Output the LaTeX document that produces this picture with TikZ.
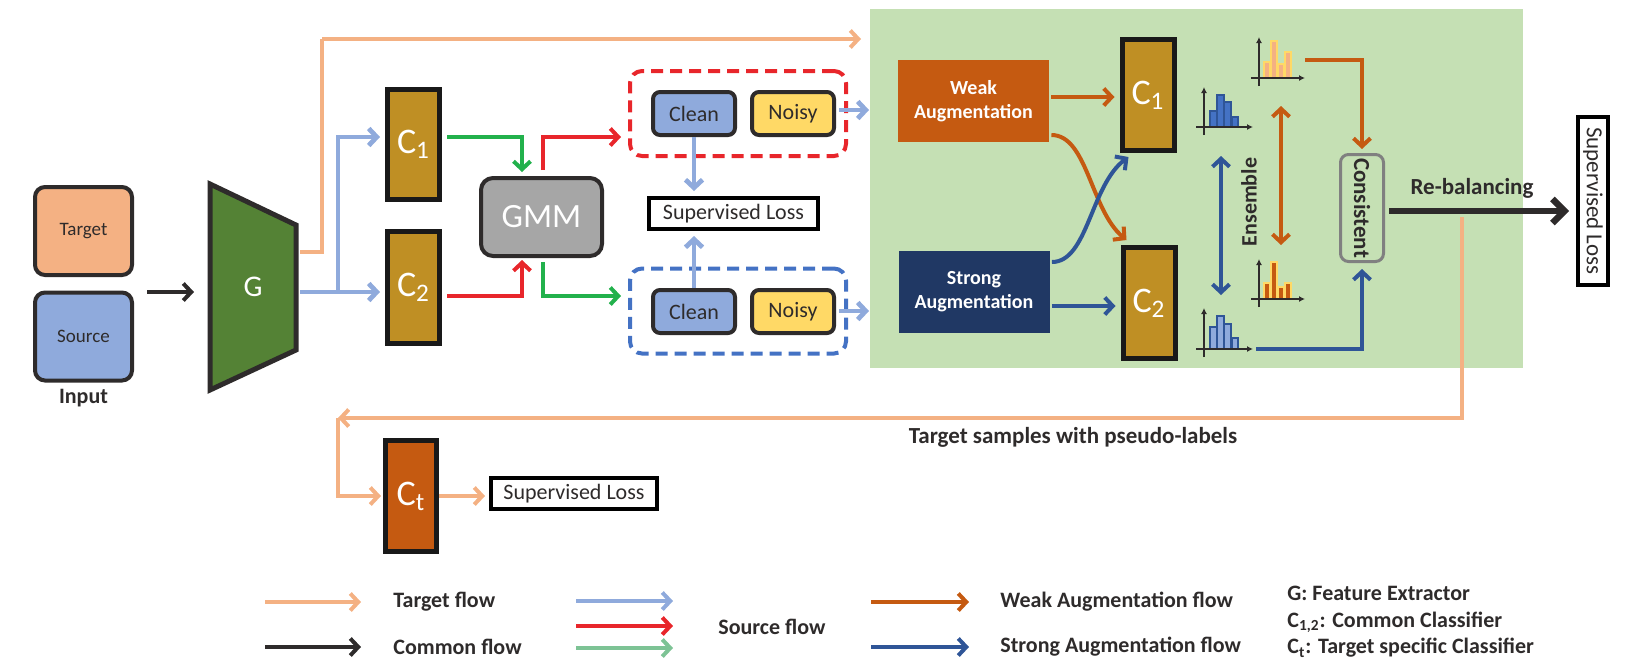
\documentclass[tikz,border=0pt]{standalone}
\usepackage{fontspec}
\setmainfont{Carlito}
\usepackage{graphicx}
\usetikzlibrary{arrows.meta,calc}
\definecolor{peach}{HTML}{F4B183}
\definecolor{lblue}{HTML}{8FAADC}
\definecolor{rred}{HTML}{E8262B}
\definecolor{ggreen}{HTML}{22B14C}
\definecolor{lgreen}{HTML}{7DC395}
\definecolor{oorange}{HTML}{C55A11}
\definecolor{dblue}{HTML}{2F5597}
\definecolor{navy}{HTML}{203864}
\definecolor{gold}{HTML}{BF8F24}
\definecolor{ggdark}{HTML}{548235}
\definecolor{ggray}{HTML}{A6A6A6}
\definecolor{greenbg}{HTML}{C5E0B4}
\definecolor{yyellow}{HTML}{FFD966}
\definecolor{dark}{HTML}{2E2B2B}
\definecolor{bfill}{HTML}{4472C4}
\newcommand\myfs[1]{\fontsize{#1}{#1}\selectfont}
\begin{document}
\begin{tikzpicture}[x=0.5pt,y=-0.5pt,
  flow/.style={-{Straight Barb[length=4pt,width=8.5pt]}, line width=2pt},
  fpeach/.style={flow, draw=peach},
  fblue/.style={flow, draw=lblue, line width=2.4pt},
  fred/.style={flow, draw=rred},
  fgreen/.style={flow, draw=ggreen},
  flgreen/.style={flow, draw=lgreen},
  forange/.style={flow, draw=oorange},
  fdblue/.style={flow, draw=dblue},
  fdark/.style={flow, draw=dark},
  fdouble/.style={{Straight Barb[length=4pt,width=8.5pt]}-{Straight Barb[length=4pt,width=8.5pt]}, line width=2pt},
  inbox/.style={draw=dark, line width=2pt, rounded corners=5pt, minimum width=48.5pt, minimum height=44pt, inner sep=0pt, font=\myfs{9.5}, text=dark},
  cbox/.style={draw=black!90, line width=2.5pt, fill=gold, minimum width=26pt, minimum height=55pt, inner sep=0pt, text=white, font=\myfs{18}},
  smallbox/.style={draw=dark, line width=2pt, rounded corners=3.5pt, minimum width=41pt, minimum height=21.5pt, inner sep=0pt, font=\myfs{11}, text=dark},
  dbox/.style={line width=2pt, dash pattern=on 6pt off 3.5pt, rounded corners=6pt, minimum width=108pt, minimum height=42.5pt, inner sep=0pt},
  slbox/.style={draw=black, line width=2pt, fill=white, inner sep=0pt, font=\myfs{11}, text=dark},
  augbox/.style={minimum width=75.5pt, minimum height=41pt, inner sep=0pt, text=white, font=\myfs{10}\bfseries, align=center},
  lbl/.style={inner sep=0pt, font=\myfs{11}\bfseries, text=dark},
  leg/.style={inner sep=0pt, anchor=west, font=\myfs{11}\bfseries, text=dark},
  axisl/.style={line width=0.6pt, draw=dark, -{Latex[length=3pt,width=3pt]}},
]
\useasboundingbox (0,0) rectangle (1645,666);

% green augmentation area
\node[fill=greenbg, minimum width=326.5pt, minimum height=179.5pt, inner sep=0pt] (augarea) at (1196.5,188.5) {};

% inputs
\node[inbox, fill=peach] (tgt) at (83.5,231) {Target};
\node[inbox, fill=lblue] (src) at (83.5,336.5) {Source};
\node[lbl] (inp) at (83.5,398) {Input};

% feature extractor
\draw[line width=2.5pt, draw=dark, fill=ggdark, line join=miter] (210,184) -- (296,225) -- (296,350) -- (210,390) -- cycle;
\node[text=white, font=\myfs{15}] (G) at (253,287) {G};
\coordinate (inA) at (147,292);
\coordinate (Gin) at (194,292);
\draw[fdark] (inA) -- (Gin);

% classifiers
\node[cbox] (C1L) at (413.5,144.5) {C\textsubscript{1}};
\node[cbox, minimum height=56pt] (C2L) at (413.5,287.5) {C\textsubscript{2}};
\node[draw=dark, line width=2pt, fill=ggray, rounded corners=6pt, minimum width=60.5pt, minimum height=39pt, text=white, font=\myfs{17}] (GMM) at (541.5,217) {GMM};

\coordinate (Gout) at (300,292);
\coordinate (Gtop) at (300,252);
\coordinate (jb) at (338,292);
\coordinate (pk1) at (861,39);
\draw[fpeach, -] (Gtop) -- (322,252) -- (322,39);
\draw[fpeach] (322,39) -- (pk1);
\draw[fblue, -] (Gout) -- (jb);
\draw[fblue, shorten >=2.5pt] (jb) |- ($(C1L.west)+(0,-7.5)$);
\draw[fblue, shorten >=2.5pt] (jb) -- ($(C2L.west)+(0,4.5)$);

% dashed groups
\node[dbox, draw=rred] (rbox) at (738,113.5) {};
\node[dbox, draw=bfill] (bbox) at (738,311) {};
\node[smallbox, fill=lblue] (cl1) at (694,113.5) {Clean};
\node[smallbox, fill=yyellow] (no1) at (793,113.5) {Noisy};
\node[smallbox, fill=lblue] (cl2) at (694,311.5) {Clean};
\node[smallbox, fill=yyellow] (no2) at (793,311.5) {Noisy};
\node[slbox, minimum width=84.5pt, minimum height=15.5pt] (sl1) at (733.5,213.5) {Supervised Loss};

\draw[fgreen, shorten >=2pt] ($(C1L.east)+(5,-7.5)$) -| ($(GMM.north)+(-19.5,0)$);
\draw[fred, shorten <=3pt, shorten >=3.5pt] ($(GMM.north)+(1.5,0)$) |- ($(rbox.west)+(0,23.5)$);
\draw[fred, shorten >=1pt] ($(C2L.east)+(5,8.5)$) -| ($(GMM.south)+(-19.5,0)$);
\draw[fgreen, shorten <=2pt, shorten >=3.5pt] ($(GMM.south)+(1.5,0)$) |- ($(bbox.west)+(0,-15)$);
\draw[fblue, shorten >=2.5pt] (cl1.south) -- (cl1.south |- sl1.north);
\draw[fblue, shorten >=2.5pt] (cl2.north) -- (cl2.north |- sl1.south);
\coordinate (rout) at (869,110);
\coordinate (bout) at (869,311);
\draw[fblue] ($(rbox.east)+(-9,-3.5)$) -- (rout);
\draw[fblue] ($(bbox.east)+(-9,0)$) -- (bout);

% augmentation area
\node[augbox, fill=oorange] (weak) at (973.5,101) {Weak\\[2pt]Augmentation};
\node[augbox, fill=navy] (strong) at (974,291.5) {Strong\\[2pt]Augmentation};
\node[cbox, minimum height=55.5pt] (C1R) at (1148,95) {C\textsubscript{1}};
\node[cbox, minimum height=55.5pt] (C2R) at (1149,303) {C\textsubscript{2}};
\draw[forange, shorten >=2.5pt] ($(weak.east)+(2,-4)$) -- ($(C1R.west)+(0,2)$);
\draw[fdblue, shorten >=2.5pt] ($(strong.east)+(2,14.5)$) -- ($(C2R.west)+(0,3)$);
\draw[forange] ($(weak.east)+(2,34)$) .. controls +(36,0) and +(-36,-30) .. ($(C2R.north west)+(6,-5)$);
\draw[fdblue] ($(strong.east)+(2,-29.5)$) .. controls +(36,0) and +(-38,28) .. ($(C1R.south west)+(9,4)$);

% histograms
% blue 1
\foreach \a/\b/\t in {1210/1217/111,1217/1224/95,1224/1231/102,1232/1238/117}
  \draw[fill=bfill, draw=dblue, line width=0.6pt] (\a,127) rectangle (\b,\t);
\draw[axisl] (1204,135) -- (1204,87);
\draw[axisl] (1196,127) -- (1253,127);
% blue 2
\foreach \a/\b/\t in {1210/1217/327,1217/1224/316,1224/1231/324,1232/1238/338}
  \draw[fill=lblue, draw=dblue, line width=0.6pt] (\a,349) rectangle (\b,\t);
\draw[axisl] (1204,357) -- (1204,308);
\draw[axisl] (1196,349) -- (1253,349);
% peach
\foreach \a/\b/\t in {1264/1270/62,1271/1277/41,1278/1284/64,1285/1291/52}
  \draw[fill=peach, draw=yyellow, line width=0.6pt] (\a,78) rectangle (\b,\t);
\draw[axisl] (1259,86) -- (1259,37);
\draw[axisl] (1251,78) -- (1305,78);
% orange
\foreach \a/\b/\t in {1264/1270/283,1271/1277/262,1278/1284/287,1285/1291/283}
  \draw[fill=oorange, draw=yyellow, line width=0.6pt] (\a,299) rectangle (\b,\t);
\draw[axisl] (1259,307) -- (1259,259);
\draw[axisl] (1251,299) -- (1305,299);

\node[draw=gray, line width=1.5pt, rounded corners=4pt, minimum width=21.5pt, minimum height=53.5pt, inner sep=0pt, font=\myfs{11.5}\bfseries, text=dark] (cons) at (1362,208) {\rotatebox{-90}{Consistent}};
\node[inner sep=0pt, font=\myfs{11}\bfseries, text=dark] (ens) at (1249,202) {\rotatebox{90}{Ensemble}};
\coordinate (hpk) at (1305,60);
\coordinate (hb2) at (1256,349);
\draw[forange, shorten >=2pt] (hpk) -| (cons.north);
\draw[fdblue, shorten >=3pt] (hb2) -| (cons.south);
\coordinate (ea) at (1281,106);
\coordinate (eb) at (1281,245);
\coordinate (ec) at (1221,156);
\coordinate (ed) at (1221,295);
\draw[fdouble, draw=oorange] (ea) -- (eb);
\draw[fdouble, draw=dblue] (ec) -- (ed);

\node[slbox, minimum width=15pt, minimum height=84pt, font=\myfs{11.5}] (slv) at (1593,201) {\rotatebox{-90}{Supervised Loss}};
\node[lbl, font=\myfs{11.5}\bfseries] (rebal) at (1472,188) {Re-balancing};
\draw[-{Straight Barb[length=6pt,width=12pt]}, line width=3.2pt, draw=dark, shorten >=3.5pt] ($(cons.east)+(4,3)$) -- ($(cons.east -| slv.west)+(0,3)$);

% pseudo-label loop
\coordinate (ret) at (338,418);
\draw[fpeach] ($(rebal)+(-10,29)$) |- (ret);
\node[lbl, font=\myfs{11.5}\bfseries] (tsp) at (1073,437) {Target samples with pseudo-labels};
\node[cbox, fill=oorange, minimum width=25.5pt, minimum height=55.5pt] (Ct) at (411,496) {C\textsubscript{t}};
\draw[fpeach, shorten >=1pt] (ret) |- (Ct.west);
\node[slbox, minimum width=83pt, minimum height=15.5pt] (sl2) at (574,493.5) {Supervised Loss};
\draw[fpeach, shorten >=2pt] (Ct.east) -- (Ct.east -| sl2.west);

% legend
\coordinate (la1) at (265,602); \coordinate (lb1) at (361,602);
\coordinate (la2) at (265,647); \coordinate (lb2) at (361,647);
\coordinate (la3) at (576,601); \coordinate (lb3) at (673,601);
\coordinate (la4) at (576,626); \coordinate (lb4) at (673,626);
\coordinate (la5) at (576,648); \coordinate (lb5) at (673,648);
\coordinate (la6) at (871,602); \coordinate (lb6) at (969,602);
\coordinate (la7) at (871,647); \coordinate (lb7) at (969,647);
\draw[fpeach] (la1) -- (lb1);
\draw[fdark] (la2) -- (lb2);
\draw[fblue, line width=2pt] (la3) -- (lb3);
\draw[fred] (la4) -- (lb4);
\draw[flgreen] (la5) -- (lb5);
\draw[forange] (la6) -- (lb6);
\draw[fdblue] (la7) -- (lb7);
\node[leg] (t1) at (393,602) {Target flow};
\node[leg] (t2) at (393,647) {Common flow};
\node[leg] (t3) at (718,627) {Source flow};
\node[leg] (t4) at (1000,602) {Weak Augmentation flow};
\node[leg] (t5) at (1000,647) {Strong Augmentation flow};
\node[leg] (t6) at (1287,593) {G: Feature Extractor};
\node[leg] (t7) at (1287,622) {C\textsubscript{1,2}: Common Classifier};
\node[leg] (t8) at (1287,648) {C\textsubscript{t}: Target specific Classifier};
\end{tikzpicture}
\end{document}
